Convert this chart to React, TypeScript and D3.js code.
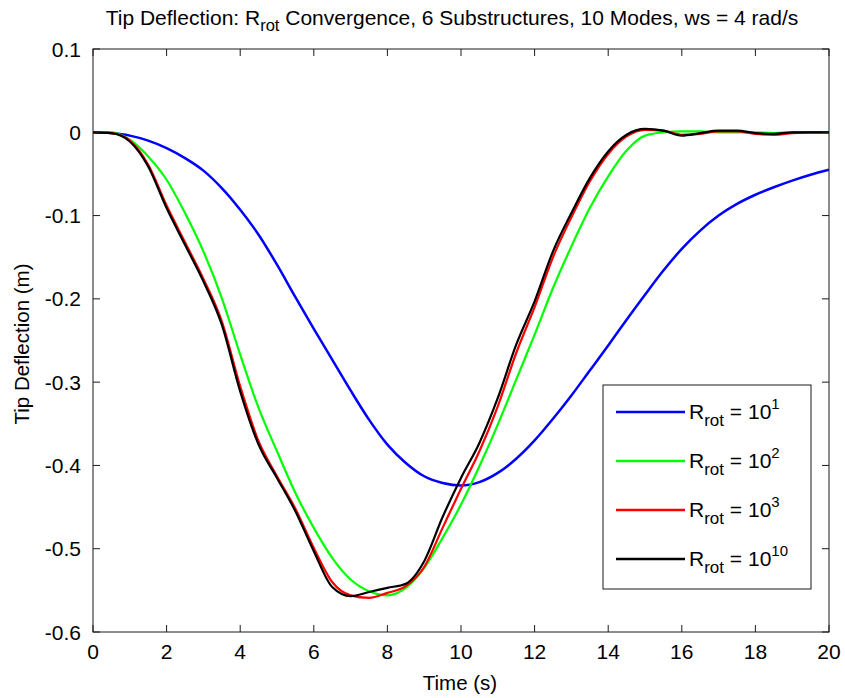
import React from "react";
import * as d3 from "d3";

const times = d3.range(0, 20.001, 0.5).map((t) => +t.toFixed(1));

const blue = [0, -0.001, -0.004, -0.01, -0.019, -0.031, -0.046, -0.067, -0.093, -0.123, -0.159, -0.198, -0.236, -0.273, -0.31, -0.345, -0.375, -0.397, -0.413, -0.421, -0.424, -0.42, -0.409, -0.392, -0.37, -0.344, -0.316, -0.286, -0.256, -0.225, -0.195, -0.166, -0.14, -0.118, -0.1, -0.086, -0.075, -0.066, -0.058, -0.051, -0.045];
const green = [0, 0, -0.009, -0.029, -0.057, -0.097, -0.143, -0.199, -0.267, -0.331, -0.383, -0.433, -0.475, -0.511, -0.537, -0.551, -0.556, -0.547, -0.523, -0.487, -0.447, -0.401, -0.351, -0.297, -0.243, -0.187, -0.137, -0.091, -0.053, -0.022, -0.004, 0.0, 0.001, 0.001, 0.0, 0.0, 0.0, -0.001, 0, 0, 0];
const red = [0, -0.001, -0.01, -0.039, -0.088, -0.132, -0.176, -0.227, -0.305, -0.371, -0.413, -0.452, -0.499, -0.54, -0.556, -0.559, -0.553, -0.545, -0.522, -0.475, -0.428, -0.383, -0.329, -0.265, -0.21, -0.15, -0.102, -0.059, -0.026, -0.005, 0.003, 0.002, -0.003, -0.002, 0.001, 0.001, -0.002, -0.003, -0.001, 0, 0];
const black = [0, -0.001, -0.011, -0.041, -0.091, -0.135, -0.179, -0.231, -0.311, -0.375, -0.415, -0.455, -0.503, -0.546, -0.557, -0.552, -0.547, -0.542, -0.515, -0.462, -0.415, -0.373, -0.319, -0.255, -0.203, -0.143, -0.097, -0.055, -0.023, -0.003, 0.004, 0.002, -0.004, -0.001, 0.002, 0.002, -0.001, -0.002, 0, 0, 0];

const seriesNames = ["1", "2", "3", "10"];
const seriesColors = ["#0000ff", "#00ff00", "#ff0000", "#000000"];
const seriesValues = [blue, green, red, black];

const xTicks = d3.range(0, 21, 2);
const yTicks = [0.1, 0, -0.1, -0.2, -0.3, -0.4, -0.5, -0.6];

const W = 845;
const H = 698;
const left = 93;
const right = 829;
const top = 49;
const bottom = 632;
const FONT = "'Liberation Sans', Arial, sans-serif";
const AX = "#1a1a1a";

export default function App() {
  const x = d3.scaleLinear().domain([0, 20]).range([left, right]);
  const y = d3.scaleLinear().domain([-0.6, 0.1]).range([bottom, top]);
  const line = d3
    .line<number>()
    .x((_, i) => x(times[i]))
    .y((d) => y(d))
    .curve(d3.curveMonotoneX);

  const tickLen = 7;
  const legX = 603, legY = 385, legW = 208, legH = 204;
  const rowY = [412, 461, 510, 559];

  return (
    <svg
      width={W}
      height={H}
      style={{ position: "absolute", left: 0, top: 0, background: "#fff" }}
      fontFamily={FONT}
    >
      <rect x={0} y={0} width={W} height={H} fill="#fff" />
      {/* title */}
      <text x={452} y={25} fontSize={21} textAnchor="middle" fill="#000">
        Tip Deflection: R
        <tspan fontSize={16.5} dy={6}>rot</tspan>
        <tspan dy={-6}> Convergence, 6 Substructures, 10 Modes, ws = 4 rad/s</tspan>
      </text>

      {/* lines */}
      <defs>
        <clipPath id="clip">
          <rect x={left} y={top} width={right - left} height={bottom - top} />
        </clipPath>
      </defs>
      <g clipPath="url(#clip)">
        {seriesValues.map((vals, k) => (
          <path
            key={k}
            d={line(vals) || ""}
            fill="none"
            stroke={seriesColors[k]}
            strokeWidth={k === 0 ? 2.5 : 2.2}
            strokeLinejoin="round"
          />
        ))}
      </g>

      {/* axes box */}
      <rect x={left} y={top} width={right - left} height={bottom - top} fill="none" stroke={AX} strokeWidth={1} />
      {xTicks.map((t) => (
        <g key={"x" + t}>
          <line x1={x(t)} x2={x(t)} y1={bottom} y2={bottom - tickLen} stroke={AX} />
          <line x1={x(t)} x2={x(t)} y1={top} y2={top + tickLen} stroke={AX} />
          <text x={x(t)} y={659} fontSize={21} textAnchor="middle" fill="#000">
            {t}
          </text>
        </g>
      ))}
      {yTicks.map((v) => (
        <g key={"y" + v}>
          <line x1={left} x2={left + tickLen} y1={y(v)} y2={y(v)} stroke={AX} />
          <line x1={right} x2={right - tickLen} y1={y(v)} y2={y(v)} stroke={AX} />
          <text x={81} y={y(v) + 7.5} fontSize={21} textAnchor="end" fill="#000">
            {v === 0 ? "0" : d3.format(".1f")(v).replace("−", "-")}
          </text>
        </g>
      ))}

      {/* axis labels */}
      <text x={460} y={690} fontSize={20.5} textAnchor="middle" fill="#000">
        Time (s)
      </text>
      <text
        transform={`translate(29, 344) rotate(-90)`}
        fontSize={20.5}
        textAnchor="middle"
        fill="#000"
      >
        Tip Deflection (m)
      </text>

      {/* legend */}
      <rect x={legX} y={legY} width={legW} height={legH} fill="#fff" stroke={AX} strokeWidth={1} />
      {seriesNames.map((n, k) => (
        <g key={"l" + k}>
          <line x1={616} x2={685} y1={rowY[k]} y2={rowY[k]} stroke={seriesColors[k]} strokeWidth={2.5} />
          <text x={689} y={rowY[k] + 7} fontSize={21} fill="#000">
            R
            <tspan fontSize={17} dy={7}>rot</tspan>
            <tspan dy={-7}> = 10</tspan>
            <tspan fontSize={15} dy={-10}>{n}</tspan>
          </text>
        </g>
      ))}
    </svg>
  );
}
